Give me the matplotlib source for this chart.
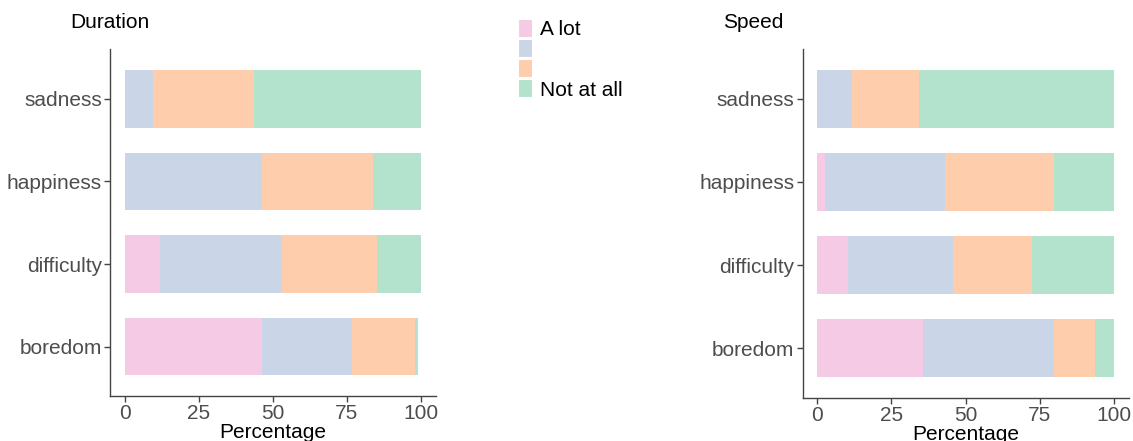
import matplotlib
matplotlib.use("Agg")
import matplotlib.pyplot as plt
from matplotlib.patches import Patch
import numpy as np

plt.rcParams["font.family"] = ["Liberation Sans", "DejaVu Sans"]

categories = ["boredom", "difficulty", "happiness", "sadness"]
levels = ["A lot", "", "", "Not at all"]
colors = ["#F4CAE4", "#CBD5E8", "#FDCDAC", "#B3E2CD"]

# share of answers per level, rows follow `categories`
duration = {
    "a_lot": [46.2, 11.8, 0.0, 0.0],
    "some": [30.4, 41.2, 46.2, 9.5],
    "little": [21.3, 32.0, 37.5, 34.2],
    "not_at_all": [1.0, 15.0, 16.3, 56.3],
}
speed = {
    "a_lot": [35.6, 10.2, 2.7, 0.0],
    "some": [44.3, 35.5, 40.5, 11.6],
    "little": [13.9, 26.6, 36.7, 22.6],
    "not_at_all": [6.2, 27.7, 20.1, 65.8],
}

W, H = 1133, 441
fig = plt.figure(figsize=(W / 100, H / 100), dpi=100)


def stacked_panel(rect, data, title, title_x):
    ax = fig.add_axes(rect)
    y = np.arange(1, len(categories) + 1)
    left = np.zeros(len(categories))
    for key, col in zip(["a_lot", "some", "little", "not_at_all"], colors):
        vals = np.asarray(data[key], dtype=float)
        ax.barh(y, vals, left=left, height=0.7, color=col, linewidth=0)
        left += vals
    ax.set_xlim(-5, 105)
    ax.set_ylim(0.4, 4.6)
    ax.set_yticks(y)
    ax.set_yticklabels(categories)
    ax.set_xticks([0, 25, 50, 75, 100])
    for side in ["top", "right"]:
        ax.spines[side].set_visible(False)
    for side in ["left", "bottom"]:
        ax.spines[side].set_color("#444444")
        ax.spines[side].set_linewidth(1.0)
    ax.tick_params(axis="both", colors="#444444", labelcolor="#4D4D4D",
                   labelsize=15, length=4, width=1, pad=2)
    ax.set_xlabel("Percentage", fontsize=15, color="black", labelpad=0)
    fig.text(title_x / W, 1 - 23 / H, title, fontsize=15, va="center", ha="left")
    return ax


stacked_panel([110.2 / W, 45 / H, 325.6 / W, 346.5 / H], duration, "Duration", 70)
stacked_panel([802.5 / W, 43 / H, 326 / W, 349 / H], speed, "Speed", 723)

handles = [Patch(facecolor=c, edgecolor="white", linewidth=0.8) for c in colors]
fig.legend(handles, levels, loc="upper left", bbox_to_anchor=(518 / W, 1 - 19 / H),
           frameon=False, fontsize=15, handlelength=0.65, handleheight=0.95,
           labelspacing=0.0, handletextpad=0.4, borderpad=0, borderaxespad=0)

fig.savefig("out.png", dpi=100)
